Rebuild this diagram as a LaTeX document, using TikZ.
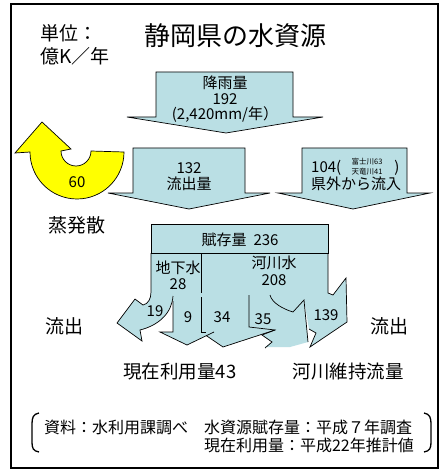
\documentclass[tikz,border=0pt]{standalone}
\usepackage{fontspec}
\setmainfont{Noto Sans CJK JP}
\definecolor{wb}{RGB}{186,223,228}
\definecolor{yel}{RGB}{255,255,0}
\newcommand{\fsz}[1]{\fontsize{#1}{#1}\selectfont}
\begin{document}
\begin{tikzpicture}[x=1pt,y=1pt,yscale=-1,
  txt/.style={inner sep=0pt,font=\fsz{15}},
  big/.style={inner sep=0pt,font=\fsz{19}},
  bigarrow/.style={fill=wb,draw=black,line width=0.7pt,line join=miter},
  edge/.style={draw=black,line width=0.7pt,line join=miter}]
\useasboundingbox (0,0) rectangle (440,470);
\fill[white] (0,0) rectangle (440,470);
% frame
\draw[line width=1.8pt] (11,4) rectangle (438,468);
% header
\node[big,anchor=west] (u1) at (40,33) {単位：};
\node[big,anchor=west] (u2) at (40,56) {億K／年};
\node[inner sep=0pt,font=\fsz{26}] (title) at (235,36) {静岡県の水資源};
% top arrows
\draw[bigarrow] (156,72) -- (293,72) -- (293,117) -- (323,117) -- (226,133) -- (127,117) -- (156,117) -- cycle;
\draw[bigarrow] (133,148) -- (245,148) -- (245,193) -- (270,193) -- (189,209) -- (108,193) -- (133,193) -- cycle;
\draw[bigarrow] (302,148) -- (407,148) -- (407,193) -- (430,193) -- (353,209) -- (278,193) -- (302,193) -- cycle;
\node[txt] (r1) at (225,83) {降雨量};
\node[txt] (r2) at (225,99) {192};
\node[txt] (r3) at (225,115) {(2,420mm/年）};
\node[txt] (o1) at (189,168) {132};
\node[txt] (o2) at (189,184) {流出量};
\node[txt,anchor=west] (i1) at (311,168) {104(};
\node[inner sep=0pt,font=\fsz{7.5}] (is1) at (367,162) {富士川63};
\node[inner sep=0pt,font=\fsz{7.5}] (is2) at (367,172) {天竜川41};
\node[txt] (i3) at (397,168) {)};
\node[txt] (i2) at (356,184) {県外から流入};
% yellow evaporation arrow
\draw[fill=yel,draw=black,line width=0.7pt,line join=miter]
  (30,152) arc[start angle=180,end angle=0,radius=47] -- (91,151)
  arc[start angle=0,end angle=180,radius=15] -- (71,149) -- (42,122) -- (15,153) -- cycle;
\node[txt] (sixty) at (77,182) {60};
\node[big] (evap) at (77,225) {蒸発散};
% lower flow fills
\fill[wb] (151,253) rectangle (328,296);
\fill[wb] (151,292) .. controls (151,299) and (148,304) .. (143,305) -- (135,299) -- (117,323) -- (142,341) -- (140,330)
  .. controls (160,325) and (172,312) .. (173,294) -- (151,294) -- cycle;
\fill[wb] (201,294) -- (201,332) -- (223,347) -- (275,330) -- (249,327) -- (249,294) -- cycle;
\fill[wb] (173,294) -- (173,332) -- (160,332) -- (187,345) -- (214,332) -- (201,332) -- (201,294) -- cycle;
\fill[wb] (249,294) -- (249,327) -- (275,330) -- (262,335) -- (272,342) -- (265,347) -- (290,347) -- (308,342)
  -- (304,300) -- (293,312) .. controls (283,309) and (272,303) .. (270,294) -- cycle;
\fill[wb] (270,253) -- (328,253) -- (328,293) -- (333,295) -- (346,278) -- (347,322) -- (310,347) -- (316,333)
  -- (309,329) -- (304,300) -- (293,312) .. controls (283,309) and (272,303) .. (270,294) -- cycle;
% box
\draw[fill=wb,draw=black,line width=0.7pt] (151,224) rectangle (328,253);
% lower flow edges
\draw[edge] (151,253) -- (151,292) .. controls (151,299) and (148,304) .. (143,305) -- (135,299) -- (117,323) -- (142,341) -- (140,330)
  .. controls (160,325) and (172,312) .. (173,296);
\draw[edge] (173,301) -- (173,332) -- (160,332) -- (187,345) -- (214,332);
\draw[edge] (201,253) -- (201,293);
\draw[edge] (201,297) -- (201,332) -- (206,332);
\draw[edge] (206.4,335.7) -- (223,347) -- (275,330);
\draw[edge] (249,295) -- (249,327) -- (275,330) -- (262,335) -- (272,342) -- (265,348);
\draw[edge] (270,295) .. controls (272,303) and (283,309) .. (293,312) -- (304,300) -- (308,342);
\draw[edge] (328,253) -- (328,293) -- (333,295) -- (346,278) -- (347,322) -- (310,347) -- (316,333) -- (309,329);
% lower labels
\node[txt] (fuson) at (240,240) {賦存量\hspace{7pt}236};
\node[txt] (chika) at (178,268) {地下水};
\node[txt] (chikan) at (178,284) {28};
\node[txt] (kasen) at (274,263) {河川水};
\node[txt] (kasenn) at (274,280) {208};
\node[txt] (v19) at (155,311) {19};
\node[txt] (v9) at (188,317) {9};
\node[txt] (v34) at (222,317) {34};
\node[txt] (v35) at (263,319) {35};
\node[txt] (v139) at (326,315) {139};
\node[big] (outl) at (64,326) {流出};
\node[big] (outr) at (389,326) {流出};
\node[inner sep=0pt,font=\fsz{18.5}] (use) at (180,372) {現在利用量43};
\node[inner sep=0pt,font=\fsz{18.5}] (keep) at (348,372) {河川維持流量};
% footer
\draw[line width=1.3pt] (39,413) .. controls (33,414) and (32,418) .. (32,424) -- (32,442) .. controls (32,448) and (33,451) .. (39,452);
\draw[line width=1.3pt] (424,413) .. controls (430,414) and (431,418) .. (431,424) -- (431,442) .. controls (431,448) and (430,451) .. (424,452);
\node[inner sep=0pt,font=\fsz{16},anchor=west] (src1) at (44,427) {資料：水利用課調べ　水資源賦存量：平成７年調査};
\node[inner sep=0pt,font=\fsz{16},anchor=east] (src2) at (414,445) {現在利用量：平成22年推計値};
\end{tikzpicture}
\end{document}
